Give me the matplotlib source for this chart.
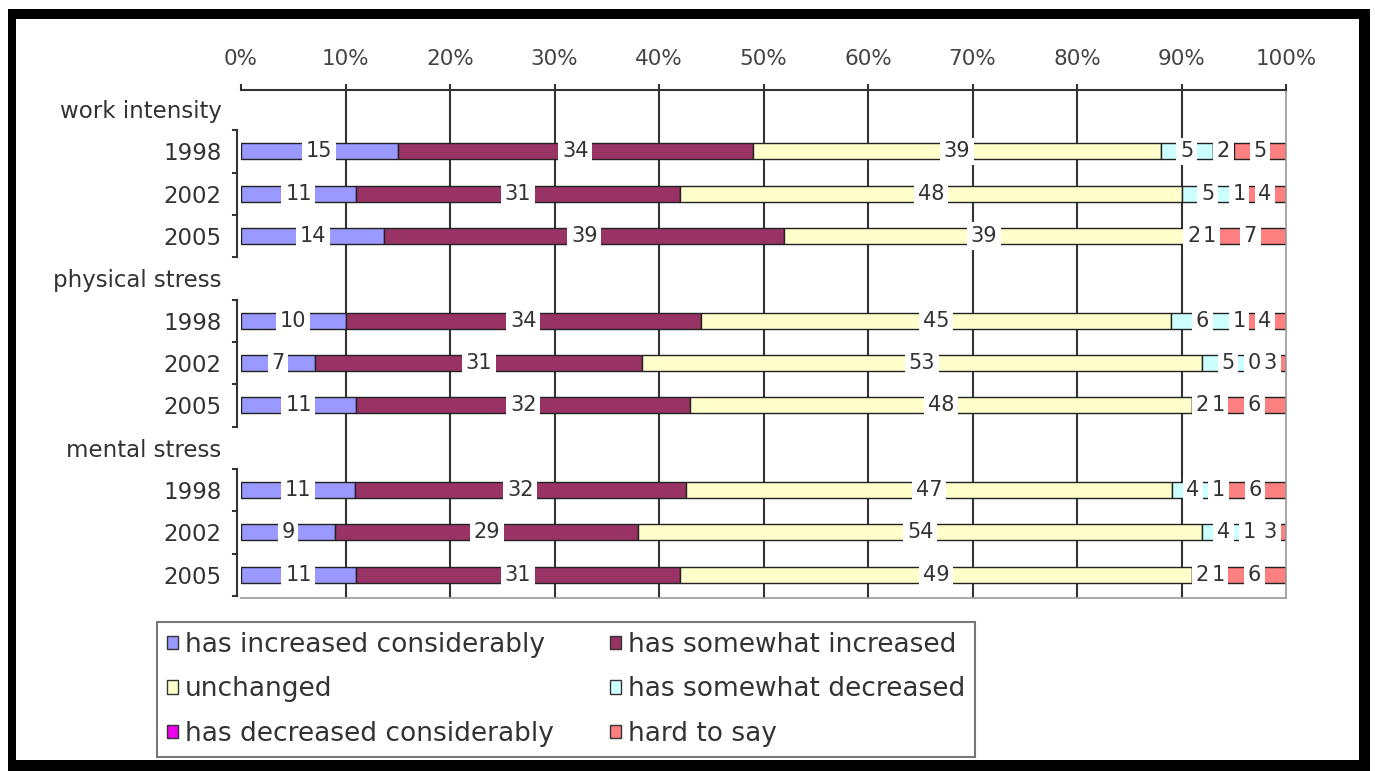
import numpy as np
import matplotlib.pyplot as plt
from matplotlib.patches import Rectangle, Patch

groups = ['work intensity', 'physical stress', 'mental stress']
years = ['1998', '2002', '2005']
answers = ['has increased considerably', 'has somewhat increased', 'unchanged',
           'has somewhat decreased', 'has decreased considerably', 'hard to say']

# one entry per group/year row: work 98,02,05 / physical 98,02,05 / mental 98,02,05
inc_cons = [15, 11, 14, 10, 7, 11, 11, 9, 11]
inc_some = [34, 31, 39, 34, 31, 32, 32, 29, 31]
unchanged = [39, 48, 39, 45, 53, 48, 47, 54, 49]
dec_some = [5, 5, 2, 6, 5, 2, 4, 4, 2]
dec_cons = [2, 1, 1, 1, 0, 1, 1, 1, 1]
hard = [5, 4, 7, 4, 3, 6, 6, 3, 6]

colors = ['#9999FF', '#993366', '#FFFFCC', '#CCFFFF', '#EE00EE', '#FF8080']
W, H = 1375, 771

fig = plt.figure(figsize=(W / 100, H / 100), dpi=100)
ax = fig.add_axes([241 / W, 1 - 598 / H, 1045 / W, 508 / H])

data = np.array([inc_cons, inc_some, unchanged, dec_some, dec_cons, hard], dtype=float)
pct = data / data.sum(axis=0) * 100
lefts = np.vstack([np.zeros(pct.shape[1]), np.cumsum(pct, axis=0)[:-1]])

slots = [4 * g + 1 + j for g in range(len(groups)) for j in range(len(years))]
ylabels = []
for g in groups:
    ylabels += [g] + years

for k in range(len(answers)):
    ax.barh(slots, pct[k], left=lefts[k], height=0.38, color=colors[k],
            edgecolor='#222222', linewidth=1, zorder=2)
    for r, s in enumerate(slots):
        ax.text(lefts[k, r] + pct[k, r] / 2, s, '%d' % data[k, r],
                ha='center', va='center', fontsize=15, color='#333333',
                zorder=3 + k,
                bbox=dict(boxstyle='square,pad=0.18', fc='white', ec='none'))

ax.set_xlim(0, 100)
ax.set_ylim(11.55, -0.45)
ax.set_xticks(np.arange(0, 101, 10))
ax.set_xticklabels(['%d%%' % v for v in range(0, 101, 10)])
ax.xaxis.tick_top()
ax.tick_params(axis='x', length=4, width=1.5, color='#333333', pad=11,
               labelsize=15.5, labelcolor='#444444')
ax.set_yticks(range(12))
ax.set_yticklabels(ylabels)
ax.tick_params(axis='y', length=0, pad=14, labelsize=16.5, labelcolor='#333333')

for x in range(10, 100, 10):
    ax.axvline(x, color='#333333', lw=1.5, zorder=1)

ax.spines['left'].set_visible(False)
ax.spines['top'].set_color('#333333')
ax.spines['top'].set_linewidth(1.5)
for side in ['right', 'bottom']:
    ax.spines[side].set_color('#999999')
    ax.spines[side].set_linewidth(1.2)

# bracket-style category axis for each group
for g in range(len(groups)):
    y0 = 4 * g + 0.5
    ax.plot([-0.35, -0.35], [y0, y0 + 3], color='#333333', lw=1.5, clip_on=False)
    for b in range(4):
        ax.plot([-0.8, -0.35], [y0 + b, y0 + b], color='#333333', lw=1.5,
                clip_on=False)

handles = [Patch(facecolor=colors[k], edgecolor='#333333', label=answers[k])
           for k in range(len(answers))]
order = [0, 2, 4, 1, 3, 5]
leg = fig.legend([handles[i] for i in order], [answers[i] for i in order],
                 ncol=2, loc='upper left', mode='expand',
                 bbox_to_anchor=(157 / W, 1 - 758 / H, 818 / W, 136 / H),
                 fontsize=19, frameon=True, fancybox=False,
                 handlelength=0.42, handleheight=0.42, handletextpad=0.25,
                 columnspacing=0.9, labelspacing=0.7, borderpad=0.38,
                 borderaxespad=0)
leg.get_frame().set_edgecolor('#555555')
leg.get_frame().set_linewidth(1.5)
for t in leg.get_texts():
    t.set_color('#333333')


def px_rect(x0, y0, x1, y1):
    fig.add_artist(Rectangle((x0 / W, 1 - y1 / H), (x1 - x0) / W, (y1 - y0) / H,
                             transform=fig.transFigure, color='black', lw=0))


# black frame round the whole chart
px_rect(8, 9, 16, 771)
px_rect(1359, 9, 1370, 771)
px_rect(8, 9, 1370, 19)
px_rect(8, 760, 1370, 771)

fig.savefig('out.png', dpi=100)
